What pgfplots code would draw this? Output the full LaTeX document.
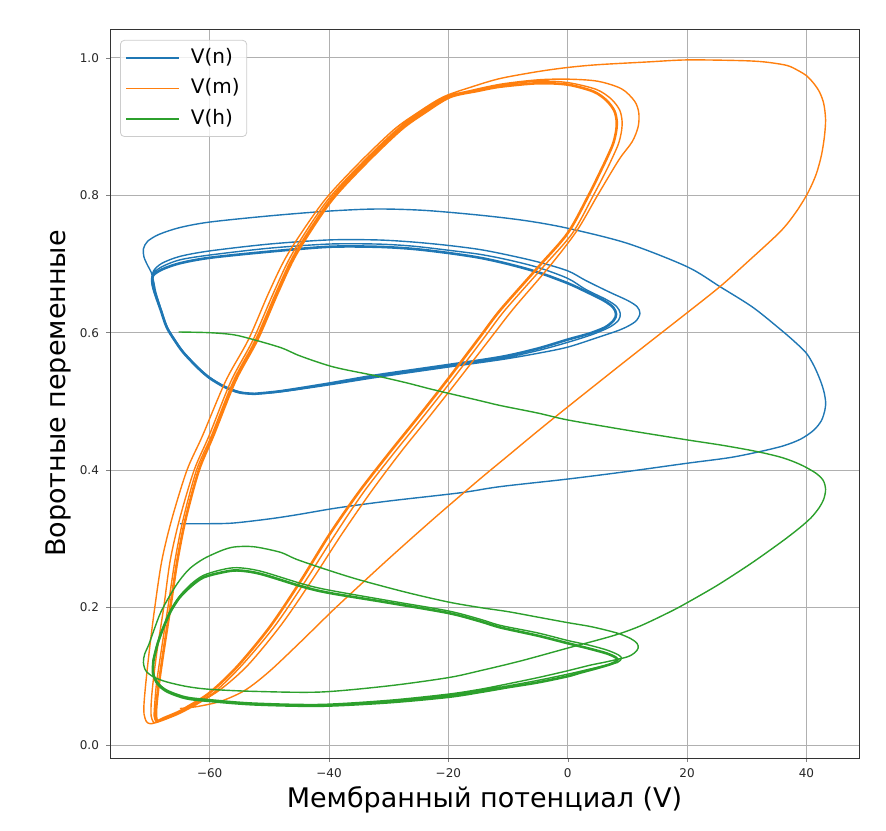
\documentclass[border=0pt]{standalone}
\usepackage{fontspec}
\setmainfont{DejaVu Sans}
\usepackage{pgfplots}
\pgfplotsset{compat=1.18}
\definecolor{tabblue}{HTML}{1F77B4}
\definecolor{taborange}{HTML}{FF7F0E}
\definecolor{tabgreen}{HTML}{2CA02C}
\begin{document}
\begin{tikzpicture}
\path[use as bounding box] (-55pt,-36pt) rectangle (388pt,379pt);
\begin{axis}[
  scale only axis, width=374.5pt, height=364.5pt,
  xmin=-76.7, xmax=48.8, ymin=-0.019, ymax=1.042,
  xtick={-60,-40,-20,0,20,40}, xticklabels={−60,−40,−20,0,20,40},
  ytick={0,0.2,0.4,0.6,0.8,1.0}, yticklabels={0.0,0.2,0.4,0.6,0.8,1.0},
  tick label style={font=\fontsize{6}{7}\selectfont, text=black!85},
  tick align=outside, major tick length=2pt, tick pos=left,
  grid=major, major grid style={color=black!31, line width=0.4pt},
  axis line style={line width=0.45pt, color=black!80},
  xlabel={Мембранный потенциал (V)}, ylabel={Воротные переменные},
  label style={font=\fontsize{13.5}{15}\selectfont},
  xlabel style={at={(axis description cs:0.5,-0.0576)}, anchor=center},
  ylabel style={at={(axis description cs:-0.0694,0.5)}, anchor=center},
  legend cell align=left,
  legend style={at={(axis description cs:0.0134,0.985)}, anchor=north west,
    draw=black!20, rounded corners=2pt, fill=white, fill opacity=0.8, text opacity=1,
    inner sep=2.5pt, row sep=2.8pt,
    font=\fontsize{10}{12}\selectfont,
    nodes={inner sep=1pt, text height=8pt, text depth=2.5pt}},
  legend image code/.code={\draw[#1, line width=0.8pt] (0pt,0pt) -- (26.5pt,0pt); \path (31pt,0pt);},
]
% ---------------- n (blue) ----------------
\addplot[tabblue, line width=0.7pt, smooth, tension=0.5] coordinates {
(-65,0.322) (-60,0.322) (-56,0.323) (-50,0.329) (-45.4,0.335) (-38.6,0.345) (-30,0.355) (-18,0.367) (-11.3,0.376) (0,0.387) (10,0.398) (20,0.41) (27,0.418) (31.7,0.426) (36,0.435) (39,0.445) (41.2,0.458) (42.5,0.472) (43.1,0.488) (43.2,0.5) (42.9,0.515) (42.3,0.531) (41.3,0.551) (40,0.57) (38,0.587) (35.6,0.605) (31,0.637) (25.5,0.667) (20,0.696) (10,0.73) (0,0.752) (-7,0.763) (-14.7,0.771) (-24,0.778) (-32,0.78) (-40,0.777) (-50,0.77) (-60,0.761) (-65,0.753) (-68.5,0.743) (-70.4,0.733) (-71.1,0.722) (-71,0.71) (-70.4,0.698) (-69.8,0.688) (-69.4,0.675) (-69,0.658) (-68.1,0.633) (-67.1,0.608) (-65.7,0.588) (-64.3,0.571) (-62,0.55) (-60,0.535) (-57.5,0.522) (-55,0.514) (-52.5,0.511)
(-48,0.514) (-40,0.524) (-32,0.535) (-20,0.55) (-11,0.561) (-5,0.57) (0,0.579) (5,0.593) (9,0.605) (11.3,0.616) (12.1,0.628) (11.6,0.638) (10,0.647) (7,0.659) (3,0.676) (0,0.69) (-5,0.703) (-10,0.713) (-14.7,0.721) (-20,0.727) (-26,0.732) (-32,0.735) (-40,0.735) (-50,0.729) (-60,0.719) (-65,0.711) (-68,0.701) (-69.4,0.69) (-69.7,0.677) (-69.3,0.66) (-68.2,0.634) (-67.2,0.609) (-65.8,0.589) (-64.4,0.572) (-62,0.55) (-60,0.535) (-57.5,0.522) (-55,0.514) (-52.5,0.511)
(-48,0.515) (-40,0.525) (-32,0.537) (-20,0.552) (-11,0.563) (-5,0.574) (0,0.586) (4,0.597) (7,0.608) (8.5,0.618) (8.8,0.628) (8.2,0.638) (6.5,0.648) (3,0.663) (0,0.679) (-5,0.695) (-10,0.706) (-14.7,0.714) (-20,0.72) (-26,0.726) (-32,0.729) (-40,0.729) (-50,0.723) (-60,0.713) (-65,0.706) (-68,0.696) (-69.5,0.686) (-69.7,0.675) (-69.2,0.658) (-68.2,0.633) (-67.2,0.608) (-65.8,0.588) (-64.4,0.571) (-62,0.549) (-60,0.534) (-57.5,0.521) (-55,0.513) (-52.5,0.511)
};
\addlegendentry{V(n)}
\addplot[tabblue, line width=1.3pt, smooth, tension=0.5, forget plot] coordinates {
(-52.5,0.511) (-48,0.515) (-40,0.526) (-32,0.538) (-20,0.553) (-11,0.565) (-5,0.577) (0,0.59) (3.7,0.599) (6.3,0.608) (7.7,0.618) (8.1,0.627) (7.6,0.637) (6,0.647) (3,0.66) (0,0.672) (-5,0.688) (-10,0.7) (-14.7,0.709) (-20,0.716) (-26,0.722) (-32,0.725) (-40,0.725) (-50,0.718) (-60,0.709) (-65,0.701) (-68,0.692) (-69.5,0.683) (-69.6,0.672) (-69.2,0.658) (-68.2,0.633) (-67.2,0.608) (-65.8,0.588) (-64.4,0.571) (-62,0.549) (-60,0.534) (-57.5,0.521) (-55,0.513) (-52.5,0.511)
};
% ---------------- m (orange) ----------------
\addplot[taborange, line width=0.7pt, smooth, tension=0.5] coordinates {
(-65,0.053) (-62,0.056) (-58,0.064) (-54,0.08) (-50,0.107) (-45,0.148) (-41,0.182) (-38,0.207) (-30,0.271) (-22.5,0.329) (-15,0.385) (-10,0.421) (-5,0.457) (0,0.492) (10,0.561) (20,0.629) (25.5,0.667) (30,0.702) (35.6,0.747) (38.2,0.775) (40.2,0.803) (41.6,0.83) (42.5,0.858) (43,0.885) (43.2,0.91) (42.9,0.933) (42.2,0.95) (41.2,0.963) (40,0.974) (38.5,0.982) (36.7,0.989) (33,0.994) (28.9,0.996) (20,0.997) (13.3,0.994) (5,0.99) (0,0.986) (-5,0.98) (-11.3,0.97) (-16,0.958) (-20.9,0.943) (-25.2,0.92) (-29.2,0.895) (-35.2,0.845) (-41,0.79) (-46.8,0.716) (-50,0.66) (-53.5,0.59) (-57.3,0.53) (-61.2,0.45) (-63.8,0.4) (-66.3,0.33) (-68,0.269) (-69.2,0.2) (-70.1,0.138) (-70.7,0.09) (-71,0.06) (-71,0.045) (-70.6,0.034) (-70,0.031) (-69.2,0.032)
(-67.5,0.037) (-65,0.046) (-62,0.06) (-58,0.082) (-53.5,0.117) (-48,0.175) (-43,0.238) (-38,0.305) (-33,0.368) (-28,0.426) (-23,0.48) (-18.2,0.533) (-12.5,0.597) (-9,0.636) (-3,0.697) (1.5,0.748) (5,0.8) (8.6,0.852) (10.8,0.878) (11.8,0.9) (11.9,0.92) (11.2,0.937) (9,0.955) (5,0.966) (0,0.969) (-5,0.968) (-11,0.962) (-16,0.953) (-20.4,0.943) (-24.7,0.92) (-28.7,0.895) (-34.7,0.845) (-40.5,0.79) (-46.1,0.716) (-49.2,0.66) (-52.7,0.59) (-56.4,0.53) (-60.1,0.45) (-62.6,0.4) (-65,0.33) (-66.6,0.269) (-67.7,0.2) (-68.8,0.138) (-69.5,0.09) (-69.8,0.06) (-69.8,0.042) (-69.4,0.033) (-68.8,0.033)
(-67.5,0.038) (-65,0.047) (-63,0.057) (-59.2,0.077) (-54.6,0.116) (-49.1,0.173) (-44,0.238) (-39,0.306) (-34.2,0.368) (-29.2,0.424) (-24.2,0.478) (-19.4,0.531) (-13.9,0.594) (-10.5,0.633) (-4.2,0.695) (0.8,0.745) (4.3,0.8) (6.4,0.835) (7.5,0.855) (8.5,0.875) (9,0.893) (9.1,0.908) (8.7,0.924) (7.3,0.94) (4.8,0.954) (0,0.964) (-5,0.966) (-11.3,0.96) (-15,0.953) (-20,0.943) (-24.3,0.92) (-28.3,0.895) (-34.3,0.845) (-40.1,0.79) (-45.7,0.716) (-48.8,0.66) (-52.3,0.59) (-56,0.53) (-59.7,0.45) (-62.2,0.4) (-64.4,0.33) (-65.8,0.269) (-67,0.2) (-68.1,0.138) (-68.9,0.09) (-69.2,0.06) (-69.3,0.042) (-69,0.034) (-68.6,0.034)
};
\addlegendentry{V(m)}
\addplot[taborange, line width=1.3pt, smooth, tension=0.5, forget plot] coordinates {
(-68.8,0.034) (-67.7,0.039) (-65.5,0.047) (-63.8,0.055) (-60,0.076) (-55.4,0.114) (-49.9,0.172) (-44.8,0.238) (-39.8,0.308) (-35,0.368) (-30,0.424) (-25,0.478) (-20.2,0.531) (-14.7,0.594) (-11.3,0.633) (-5,0.695) (0,0.745) (3.5,0.8) (5.5,0.835) (6.6,0.855) (7.6,0.875) (8.1,0.893) (8.2,0.908) (7.8,0.923) (6.5,0.938) (4.3,0.951) (0,0.961) (-5,0.963) (-11.3,0.958) (-15,0.952) (-19.7,0.943) (-24,0.92) (-28,0.895) (-34,0.845) (-39.8,0.79) (-45.4,0.716) (-48.5,0.66) (-52,0.59) (-55.7,0.53) (-59.4,0.45) (-61.8,0.4) (-64,0.33) (-65.4,0.269) (-66.6,0.2) (-67.7,0.138) (-68.5,0.09) (-68.9,0.06) (-69,0.042) (-68.8,0.034)
};
% ---------------- h (green) ----------------
\addplot[tabgreen, line width=0.7pt, smooth, tension=0.5] coordinates {
(-65.2,0.601) (-60,0.6) (-56,0.597) (-52.7,0.59) (-48,0.578) (-44.8,0.566) (-39.2,0.55) (-32,0.537) (-27,0.527) (-22.5,0.517) (-14.7,0.501) (-11.3,0.494) (-5,0.483) (0,0.473) (10,0.458) (20,0.444) (26,0.436) (31.7,0.427) (36,0.418) (39,0.408) (41.5,0.396) (42.8,0.385) (43.2,0.372) (42.9,0.358) (42.1,0.345) (40.8,0.331) (39,0.317) (36.5,0.3) (33,0.278) (30,0.26) (25,0.232) (20,0.207) (17.2,0.194) (12.1,0.173) (7.6,0.159) (0,0.141) (-8,0.122) (-14.7,0.108) (-20,0.098) (-30,0.086) (-41.5,0.077) (-52.6,0.078) (-60,0.081) (-63.8,0.085) (-67.3,0.092) (-69.4,0.099) (-70.7,0.108) (-71.1,0.12) (-70.9,0.132) (-70.2,0.146) (-69.3,0.168) (-68.2,0.193) (-66.5,0.22) (-65,0.24) (-63.3,0.257) (-61,0.271) (-58,0.283) (-56,0.288) (-53.5,0.289) (-51.5,0.287) (-48,0.28) (-45.4,0.27) (-40,0.254) (-34.8,0.24) (-27,0.222) (-20,0.208) (-14.7,0.2) (-10,0.194) (-5,0.186) (0,0.178) (4,0.172) (8.2,0.163) (10.5,0.155) (11.6,0.148) (11.8,0.141) (11.2,0.134) (9.9,0.128) (6.5,0.121) (3.7,0.116) (0,0.108) (-5,0.098) (-10,0.089) (-14.7,0.081) (-20,0.074) (-30,0.065) (-41.5,0.059) (-52.6,0.061) (-60,0.066) (-64,0.07) (-67.2,0.08) (-68.8,0.092) (-69.5,0.107) (-69.4,0.125)
(-68.7,0.149) (-67.7,0.173) (-66.5,0.197) (-65,0.217) (-63,0.235) (-61,0.247) (-58,0.255) (-55.4,0.258) (-51.5,0.253) (-44.3,0.234) (-39.8,0.225) (-30,0.21) (-20,0.195) (-14.7,0.183) (-11.3,0.174) (-5,0.163) (0,0.152) (3.7,0.145) (6.6,0.138) (8.5,0.131) (9,0.126) (8.3,0.12) (6,0.115) (3,0.109) (0,0.103) (-5,0.094) (-10,0.086) (-14.7,0.079) (-20,0.072) (-30,0.064) (-41.5,0.058) (-52.6,0.06) (-60,0.065) (-64,0.069) (-67.2,0.079) (-68.8,0.091) (-69.5,0.106) (-69.4,0.124)
};
\addlegendentry{V(h)}
\addplot[tabgreen, line width=1.3pt, smooth, tension=0.5, forget plot] coordinates {
(-69.4,0.124) (-68.7,0.148) (-67.7,0.172) (-66.5,0.195) (-65,0.215) (-63,0.232) (-61,0.244) (-58,0.251) (-55.4,0.254) (-51.5,0.249) (-44.3,0.23) (-39.8,0.221) (-30,0.207) (-20,0.192) (-14.7,0.18) (-11.3,0.171) (-5,0.159) (0,0.148) (3.7,0.14) (6.6,0.133) (8.1,0.127) (8.3,0.123) (7.3,0.118) (5,0.112) (2,0.105) (0,0.1) (-5,0.091) (-10,0.084) (-14.7,0.077) (-20,0.07) (-30,0.062) (-41.5,0.057) (-52.6,0.059) (-60,0.064) (-64,0.068) (-67.2,0.078) (-68.8,0.09) (-69.5,0.105) (-69.4,0.124)
};
\end{axis}
\end{tikzpicture}
\end{document}
